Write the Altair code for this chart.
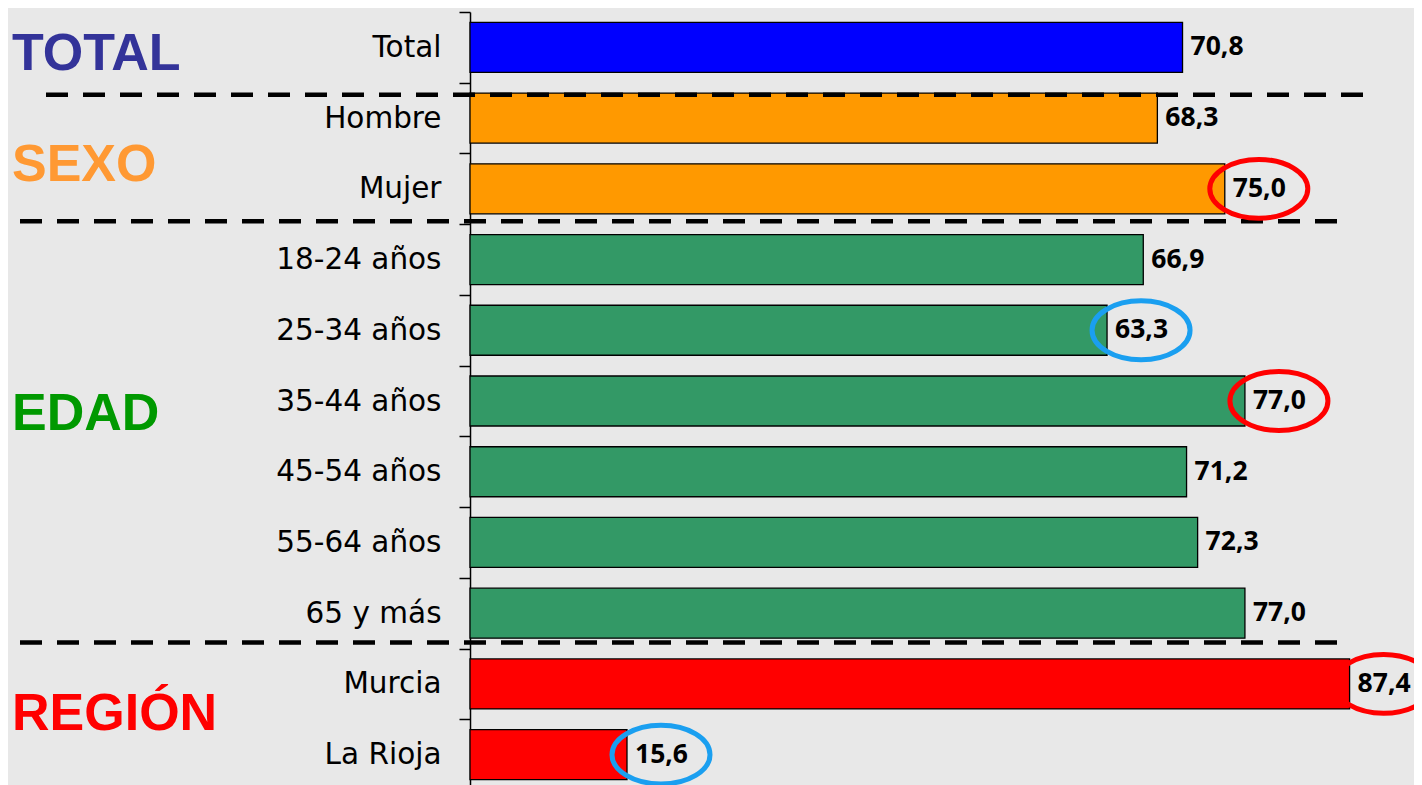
import altair as alt
import pandas as pd

# ---- data ----
categories = ["Total", "Hombre", "Mujer", "18-24 años", "25-34 años", "35-44 años",
              "45-54 años", "55-64 años", "65 y más", "Murcia", "La Rioja"]
values = [70.8, 68.3, 75.0, 66.9, 63.3, 77.0, 71.2, 72.3, 77.0, 87.4, 15.6]
groups = ["TOTAL", "SEXO", "SEXO", "EDAD", "EDAD", "EDAD", "EDAD", "EDAD", "EDAD",
          "REGIÓN", "REGIÓN"]

group_names = ["TOTAL", "SEXO", "EDAD", "REGIÓN"]
group_bar_colors = ["#0000FF", "#FF9900", "#339966", "#FF0000"]
group_title_colors = ["#333399", "#FF9933", "#009900", "#FF0000"]

highlight_cats = ["Mujer", "25-34 años", "35-44 años", "Murcia", "La Rioja"]
highlight_kind = ["alto", "bajo", "alto", "alto", "bajo"]
highlight_colors = {"alto": "#FF0000", "bajo": "#1A9FF0"}

separator_before = ["Hombre", "18-24 años", "Murcia"]

# ---- tables ----
df = pd.DataFrame({"cat": categories, "val": values, "grupo": groups})
df["label"] = [f"{v:.1f}".replace(".", ",") for v in values]
hl = df[df["cat"].isin(highlight_cats)].copy()
hl["kind"] = [highlight_kind[highlight_cats.index(c)] for c in hl["cat"]]

PLOT_W = 944
ysc = alt.Scale(paddingInner=0, paddingOuter=0)
xsc = alt.Scale(domain=[0, 93.8], nice=False, zero=True)

yaxis = alt.Axis(labelFont="DejaVu Sans", labelFontSize=29.5,
                 labelColor="black", tickColor="black", tickSize=11,
                 tickWidth=1.5, domainColor="black", domainWidth=1.5,
                 labelPadding=18, tickBand="extent", labelLimit=400,
                 ticks=True, grid=False)

def Y(bp=None):
    if bp is None:
        return alt.Y("cat:N", sort=categories, scale=ysc, title=None, axis=yaxis)
    return alt.Y("cat:N", sort=categories, scale=ysc, title=None, axis=yaxis,
                 bandPosition=bp)

bars = alt.Chart(df).mark_bar(height=50, stroke="black", strokeWidth=1.3).encode(
    x=alt.X("val:Q", scale=xsc, axis=None),
    y=Y(),
    color=alt.Color("grupo:N", scale=alt.Scale(domain=group_names, range=group_bar_colors),
                    legend=None),
)

layers = [bars]

sep_style = [(-424, 907, 12), (-450, 877, -3), (-450, 877, -6)]
for cat, (x1, x2, off) in zip(separator_before, sep_style):
    d = pd.DataFrame({"cat": [cat]})
    layers.append(
        alt.Chart(d).mark_rule(color="black", strokeWidth=4.5, strokeDash=[22, 15]).encode(
            y=Y(), x=alt.value(x1), x2=alt.value(x2), yOffset=alt.value(off)
        )
    )

labels = alt.Chart(df).mark_text(align="left", baseline="middle", dx=8, font="Noto Sans",
                                 fontWeight="bold", fontSize=26.5, color="black").encode(
    x=alt.X("val:Q", scale=xsc, axis=None), y=Y(), text="label:N")
layers.append(labels)

ellipse = "M-1,0A1,0.6,0,1,0,1,0A1,0.6,0,1,0,-1,0Z"
ell = alt.Chart(hl).mark_point(shape=ellipse, size=9604, filled=False, strokeWidth=5,
                               opacity=1).encode(
    x=alt.X("val:Q", scale=xsc, axis=None), y=Y(), xOffset=alt.value(34),
    color=alt.Color("kind:N", scale=alt.Scale(domain=list(highlight_colors.keys()),
                                              range=list(highlight_colors.values())),
                    legend=None),
)
layers.append(ell)

title_anchor = [("TOTAL", "Total", 0.6), ("SEXO", "Mujer", 0.17),
                ("EDAD", "35-44 años", 0.69), ("REGIÓN", "Murcia", 0.92)]
for (name, cat, bp), col in zip(title_anchor, group_title_colors):
    d = pd.DataFrame({"cat": [cat], "t": [name]})
    layers.append(
        alt.Chart(d).mark_text(align="left", baseline="middle", font="Liberation Sans",
                               fontWeight="bold", fontSize=52, color=col).encode(
            y=Y(bp), x=alt.value(-458), text="t:N")
    )

chart = alt.layer(*layers).resolve_scale(color="independent").properties(
    width=PLOT_W, height=778,
    autosize=alt.AutoSizeParams(type="none"),
    padding={"left": 462, "top": 4, "right": 0, "bottom": 0},
    background="#E8E8E8",
).configure_view(stroke=None)

chart.save("out.html", embed_options={"renderer": "svg", "actions": False})
